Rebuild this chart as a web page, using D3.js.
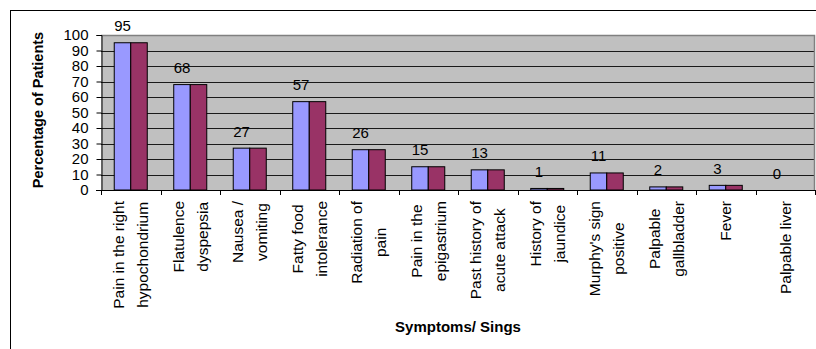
<!DOCTYPE html>
<html>
<head>
<meta charset="utf-8">
<script src="https://cdn.jsdelivr.net/npm/d3@7"></script>
<style>
  html, body { margin: 0; padding: 0; background: #fff; }
  svg { display: block; font-family: "Liberation Sans", Arial, sans-serif; }
</style>
</head>
<body>
<svg id="chart" width="816" height="349"></svg>
<script>
// Symptom categories (line breaks mark the wrapped axis labels)
const categories = [
  "Pain in the right\nhypochondrium",
  "Flatulence\ndyspepsia",
  "Nausea /\nvomiting",
  "Fatty food\nintolerance",
  "Radiation of\npain",
  "Pain in the\nepigastrium",
  "Past history of\nacute attack",
  "History of\njaundice",
  "Murphy's sign\npositive",
  "Palpable\ngallbladder",
  "Fever",
  "Palpable liver"
];
const seriesA = [95, 68, 27, 57, 26, 15, 13, 1, 11, 2, 3, 0];
const seriesB = [95, 68, 27, 57, 26, 15, 13, 1, 11, 2, 3, 0];
const yTicks = [0, 10, 20, 30, 40, 50, 60, 70, 80, 90, 100];
const seriesColors = ["#9999FF", "#993366"];
const yTitle = "Percentage of Patients";
const xTitle = "Symptoms/ Sings";

const svg = d3.select("#chart");
const plot = { left: 101, right: 815, top: 35, bottom: 190 };

// Outer chart frame
svg.append("line").attr("x1", 10.5).attr("x2", 10.5).attr("y1", 10).attr("y2", 349)
  .attr("stroke", "#000").attr("stroke-width", 1);
svg.append("line").attr("x1", 10).attr("x2", 816).attr("y1", 10.5).attr("y2", 10.5)
  .attr("stroke", "#000").attr("stroke-width", 1);

const x = d3.scaleBand().domain(d3.range(categories.length))
  .range([plot.left, plot.right]).paddingInner(0).paddingOuter(0);
const y = d3.scaleLinear().domain([0, 100]).range([plot.bottom, plot.top]);
const groupW = x.bandwidth() * 0.555;
const xs = d3.scaleBand().domain([0, 1]).range([0, groupW]);

// Plot area background
svg.append("rect")
  .attr("x", plot.left).attr("y", plot.top)
  .attr("width", plot.right - plot.left).attr("height", plot.bottom - plot.top)
  .attr("fill", "#C0C0C0");

// Horizontal gridlines
svg.append("g").selectAll("line")
  .data(yTicks.filter(t => t > 0 && t < 100))
  .join("line")
  .attr("x1", plot.left).attr("x2", plot.right)
  .attr("y1", d => Math.round(y(d)) + 0.5).attr("y2", d => Math.round(y(d)) + 0.5)
  .attr("stroke", "#1a1a1a").attr("stroke-width", 1);

// Plot border (top and right)
svg.append("path")
  .attr("d", `M${plot.left},${plot.top + 0.5}H${plot.right - 0.5}V${plot.bottom}`)
  .attr("fill", "none").attr("stroke", "#808080").attr("stroke-width", 1.5);

// Bars
const series = [seriesA, seriesB];
series.forEach((vals, si) => {
  svg.append("g").selectAll("rect")
    .data(vals.map((v, i) => ({ v, i })).filter(d => d.v > 0))
    .join("rect")
    .attr("x", d => x(d.i) + (x.bandwidth() - groupW) / 2 + xs(si))
    .attr("y", d => y(d.v))
    .attr("width", xs.bandwidth())
    .attr("height", d => y(0) - y(d.v))
    .attr("fill", seriesColors[si])
    .attr("stroke", "#000").attr("stroke-width", 1);
});

// Value labels above the first series bar
svg.append("g").selectAll("text")
  .data(seriesA.map((v, i) => ({ v, i })))
  .join("text")
  .attr("x", d => x(d.i) + (x.bandwidth() - groupW) / 2 + xs(0) + xs.bandwidth() / 2)
  .attr("y", d => y(d.v) - 11.5)
  .attr("text-anchor", "middle")
  .attr("font-size", 15)
  .attr("fill", "#000")
  .text(d => d.v);

// Y axis
const yAxis = d3.axisLeft(y).tickValues(yTicks).tickSize(5).tickPadding(8);
const yg = svg.append("g").attr("transform", `translate(${plot.left + 0.5},0)`).call(yAxis);
yg.select(".domain").attr("stroke", "#000");
yg.selectAll(".tick line").attr("stroke", "#000");
yg.selectAll(".tick text").attr("font-size", 15).attr("font-family", "Liberation Sans, Arial, sans-serif").attr("fill", "#000");

// X axis (ticks on category boundaries)
const xAxisLine = svg.append("g");
xAxisLine.append("line")
  .attr("x1", plot.left - 5).attr("x2", plot.right)
  .attr("y1", plot.bottom + 0.5).attr("y2", plot.bottom + 0.5)
  .attr("stroke", "#000");
xAxisLine.selectAll("line.tk")
  .data(d3.range(categories.length + 1))
  .join("line").attr("class", "tk")
  .attr("x1", i => Math.round(plot.left + i * x.bandwidth()) + 0.5)
  .attr("x2", i => Math.round(plot.left + i * x.bandwidth()) + 0.5)
  .attr("y1", plot.bottom).attr("y2", plot.bottom + 5)
  .attr("stroke", "#000");

// Rotated category labels, lines centred on each other, top edge aligned
const labelTop = 201;
const lineGap = 24;
categories.forEach((c, i) => {
  const lines = c.split("\n");
  const cx = x(i) + x.bandwidth() / 2;
  const g = svg.append("g").attr("transform", `translate(${cx},${labelTop}) rotate(-90)`);
  const texts = lines.map((ln, li) =>
    g.append("text")
      .attr("y", (li - (lines.length - 1) / 2) * lineGap)
      .attr("dominant-baseline", "central")
      .attr("text-anchor", "middle")
      .attr("font-size", 15.5)
      .attr("fill", "#000")
      .text(ln));
  const maxLen = d3.max(texts, t => t.node().getComputedTextLength());
  texts.forEach(t => t.attr("x", -maxLen / 2));
});

// Axis titles
svg.append("text")
  .attr("transform", `translate(43,110) rotate(-90)`)
  .attr("text-anchor", "middle")
  .attr("font-size", 14.5).attr("font-weight", "bold")
  .text(yTitle);
svg.append("text")
  .attr("x", (plot.left + plot.right) / 2).attr("y", 332)
  .attr("text-anchor", "middle")
  .attr("font-size", 15).attr("font-weight", "bold")
  .text(xTitle);
</script>
</body>
</html>
